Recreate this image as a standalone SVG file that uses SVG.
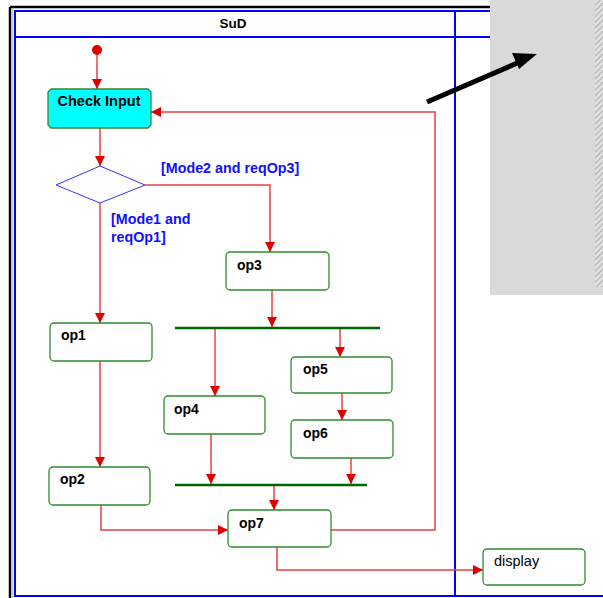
<svg xmlns="http://www.w3.org/2000/svg" width="603" height="598" viewBox="0 0 603 598">
<defs>
<marker id="ah" viewBox="0 0 10 10" refX="10" refY="5" markerWidth="10" markerHeight="10" markerUnits="userSpaceOnUse" orient="auto">
<path d="M0,0 L10,5 L0,10 z" fill="#e00000"/>
</marker>
<pattern id="hatch" width="4" height="4" patternUnits="userSpaceOnUse" patternTransform="rotate(45)">
<rect width="4" height="4" fill="#e0e0e0"/>
<line x1="0" y1="0" x2="0" y2="4" stroke="#999" stroke-width="1.5"/>
</pattern>
</defs>
<style>
.box{fill:#fff;stroke:#2e8b2e;stroke-width:1.3}
.lbl{font-family:"Liberation Sans",Arial,sans-serif;font-size:14px;font-weight:bold;fill:#000}
.grd{font-family:"Liberation Sans",Arial,sans-serif;font-size:14.3px;font-weight:bold;fill:#1010ff}
.ed{fill:none;stroke:#e84040;stroke-width:1.5;marker-end:url(#ah)}
.bar{stroke:#006400;stroke-width:2.5}
</style>
<rect width="603" height="598" fill="#fff"/>
<g id="frame">
<line x1="10" y1="7" x2="490" y2="7" stroke="#000" stroke-width="2.5"/>
<line x1="10" y1="7" x2="10" y2="598" stroke="#000" stroke-width="2.5"/>
<line x1="12.5" y1="9" x2="12.5" y2="598" stroke="#c8c8c8" stroke-width="2"/>
<rect x="15" y="11" width="640" height="585" fill="none" stroke="#0000ff" stroke-width="2"/>
<line x1="15" y1="37" x2="603" y2="37" stroke="#0000ff" stroke-width="2"/>
<line x1="455" y1="11" x2="455" y2="596" stroke="#0000ff" stroke-width="2"/>
<text x="233" y="28" text-anchor="middle" class="lbl" style="font-size:13.5px">SuD</text>
</g>
<g id="connectors">
<line class="ed" x1="97" y1="51" x2="97" y2="89"/>
<line class="ed" x1="100" y1="128" x2="100" y2="166"/>
<polyline class="ed" points="145,185 270,185 270,252"/>
<line class="ed" x1="100" y1="203" x2="100" y2="323"/>
<line class="ed" x1="272" y1="290" x2="272" y2="327"/>
<line class="ed" x1="215" y1="329" x2="215" y2="396"/>
<line class="ed" x1="340" y1="329" x2="340" y2="357"/>
<line class="ed" x1="342" y1="393" x2="342" y2="420"/>
<line class="ed" x1="211" y1="434" x2="211" y2="484"/>
<line class="ed" x1="351" y1="458" x2="351" y2="484"/>
<line class="ed" x1="274" y1="486" x2="274" y2="510"/>
<line class="ed" x1="100" y1="361" x2="100" y2="467"/>
<polyline class="ed" points="101,505 101,530 228,530"/>
<polyline class="ed" points="331,530 435,530 435,112 151,112"/>
<polyline class="ed" points="277,547 277,570 483,570"/>
<text x="161" y="173" class="grd">[Mode2 and reqOp3]</text>
<text x="111" y="224" class="grd">[Mode1 and</text>
<text x="111" y="242" class="grd">reqOp1]</text>
</g>
<g id="bars">
<line class="bar" x1="175" y1="328" x2="380" y2="328"/>
<line class="bar" x1="175" y1="485" x2="367" y2="485"/>
</g>
<g id="start"><circle cx="97" cy="50" r="5" fill="#e00000"/></g>
<g id="checkInput">
<path d="M51,89 H148 L151,92 V125 L148,128 H51 L48,125 V92 Z" fill="#00ffff" stroke="#2e8b2e" stroke-width="1.3"/>
<text x="99" y="106" text-anchor="middle" class="lbl" style="font-size:14.5px">Check Input</text>
</g>
<g id="decision"><polygon points="100,166 145,185 100,203 56,185" fill="#fff" stroke="#3333ff" stroke-width="1"/></g>
<g id="op1"><rect class="box" x="50" y="323" width="102" height="38" rx="4"/><text x="61" y="340" class="lbl">op1</text></g>
<g id="op2"><rect class="box" x="49" y="467" width="101" height="38" rx="4"/><text x="60" y="484" class="lbl">op2</text></g>
<g id="op3"><rect class="box" x="226" y="252" width="103" height="38" rx="4"/><text x="237" y="270" class="lbl">op3</text></g>
<g id="op4"><rect class="box" x="164" y="396" width="101" height="38" rx="4"/><text x="174" y="414" class="lbl">op4</text></g>
<g id="op5"><rect class="box" x="291" y="357" width="101" height="36" rx="4"/><text x="303" y="374" class="lbl">op5</text></g>
<g id="op6"><rect class="box" x="291" y="420" width="102" height="38" rx="4"/><text x="303" y="438" class="lbl">op6</text></g>
<g id="op7"><rect class="box" x="228" y="510" width="103" height="37" rx="4"/><text x="239" y="528" class="lbl">op7</text></g>
<g id="display"><rect class="box" x="483" y="549" width="102" height="36" rx="4"/><text x="494" y="566" class="lbl" style="font-weight:normal;font-size:14.5px">display</text></g>
<g id="panel">
<rect x="490" y="0" width="113" height="295" fill="#d9d9d9"/>
<rect x="595" y="0" width="8" height="287" fill="url(#hatch)"/>
<line x1="427" y1="102" x2="522" y2="61" stroke="#000" stroke-width="5"/>
<polygon points="537,54 519,69 512,53" fill="#000"/>
</g>
</svg>
